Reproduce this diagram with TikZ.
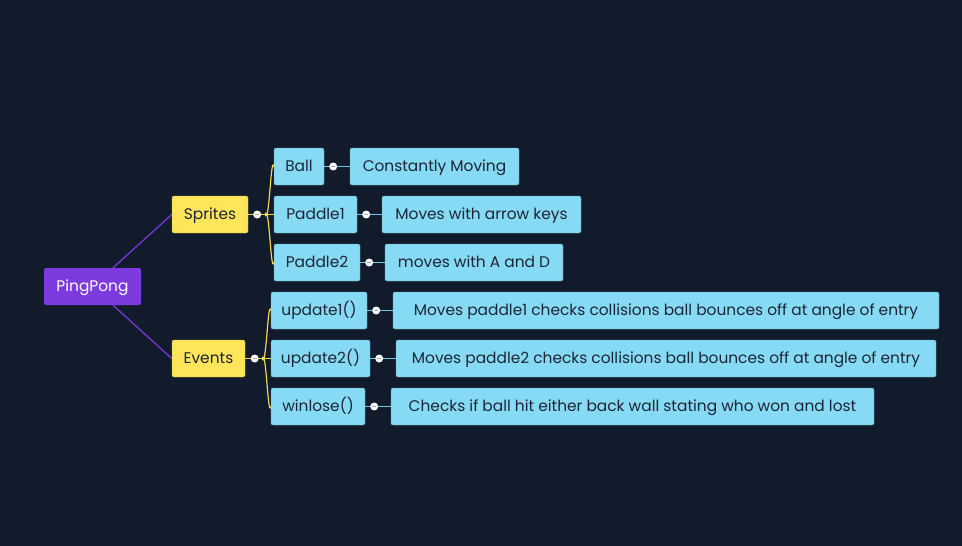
\documentclass[tikz,border=0pt]{standalone}
\usepackage{fontspec}
\setmainfont{Poppins}
\definecolor{bg}{HTML}{111B2B}
\definecolor{purp}{HTML}{7D3ADF}
\definecolor{yel}{HTML}{FEE55A}
\definecolor{cyn}{HTML}{87DAF3}
\definecolor{cynline}{HTML}{72C8E4}
\definecolor{yline}{HTML}{F0D54A}
\definecolor{txt}{HTML}{1B2536}
\begin{document}
\begin{tikzpicture}[x=1pt,y=-1pt,
  base/.style={rectangle,rounded corners=2pt,inner sep=0pt,minimum height=37pt,text height=13.6pt,text depth=3pt,font=\fontsize{15.4}{18}\selectfont,text=txt},
  rootbox/.style={base,fill=purp,text=white},
  mainbox/.style={base,fill=yel,draw=yel!80!black,line width=0.4pt},
  subbox/.style={base,fill=cyn,draw=cyn!75!black,line width=0.4pt},
  pline/.style={draw=purp,line width=1.2pt},
  yl/.style={draw=yline,line width=1.2pt},
  cl/.style={draw=cynline,line width=1.2pt},
  knob/.style={circle,fill=white,inner sep=0pt,minimum size=8pt,
    path picture={\draw[gray!70,line width=1pt] ([xshift=-2pt]path picture bounding box.center) -- ([xshift=2pt]path picture bounding box.center);}}
]
\fill[bg] (0,0) rectangle (962,546);
\useasboundingbox (0,0) rectangle (962,546);

\node[rootbox,minimum width=97pt] (pp) at (92.5,286.5) {PingPong};
\node[mainbox,minimum width=76pt] (spr) at (210,214.5) {Sprites};
\node[mainbox,minimum width=73pt] (evt) at (208.5,358.5) {Events};

\node[subbox,minimum width=50pt] (ball) at (299,166.5) {Ball};
\node[subbox,minimum width=169pt] (cm) at (434.5,166.5) {Constantly Moving};
\node[subbox,minimum width=83pt] (p1) at (315.5,214.5) {Paddle1};
\node[subbox,minimum width=199pt] (mak) at (481.5,214.5) {Moves with arrow keys};
\node[subbox,minimum width=86pt] (p2) at (317,262.5) {Paddle2};
\node[subbox,minimum width=178pt] (mad) at (474,262.5) {moves with A and D};
\node[subbox,minimum width=96pt] (u1) at (319,310.5) {update1()};
\node[subbox,minimum width=546pt] (mp1) at (666,310.5) {Moves paddle1 checks collisions ball bounces off at angle of entry};
\node[subbox,minimum width=99pt] (u2) at (320.5,358.5) {update2()};
\node[subbox,minimum width=540pt] (mp2) at (666,358.5) {Moves paddle2 checks collisions ball bounces off at angle of entry};
\node[subbox,minimum width=94pt] (wl) at (318,406.5) {winlose()};
\node[subbox,minimum width=483pt] (chk) at (632.5,406.5) {Checks if ball hit either back wall stating who won and lost};

% root connectors
\draw[pline] ([xshift=20.5pt]pp.north) -- (spr.west);
\draw[pline] ([xshift=20.5pt]pp.south) -- (evt.west);

% sprites fork
\coordinate (sf) at ([xshift=17pt]spr.east);
\draw[yl] (spr.east) -- (sf);
\draw[yl] (sf) .. controls ([xshift=4pt,yshift=-12pt]sf) and ([xshift=-3pt,yshift=12pt]ball.west) .. (ball.west);
\draw[yl] (sf) -- (p1.west);
\draw[yl] (sf) .. controls ([xshift=4pt,yshift=12pt]sf) and ([xshift=-3pt,yshift=-12pt]p2.west) .. (p2.west);
\node[knob] (ks) at ([xshift=9pt]spr.east) {};

% events fork
\coordinate (ef) at ([xshift=17pt]evt.east);
\draw[yl] (evt.east) -- (ef);
\draw[yl] (ef) .. controls ([xshift=4pt,yshift=-12pt]ef) and ([xshift=-3pt,yshift=12pt]u1.west) .. (u1.west);
\draw[yl] (ef) -- (u2.west);
\draw[yl] (ef) .. controls ([xshift=4pt,yshift=12pt]ef) and ([xshift=-3pt,yshift=-12pt]wl.west) .. (wl.west);
\node[knob] (ke) at ([xshift=9.5pt]evt.east) {};

% leaf connectors
\foreach \a/\b in {ball/cm,p1/mak,p2/mad,u1/mp1,u2/mp2,wl/chk}{
  \draw[cl] (\a.east) -- (\b.west);
  \node[knob] (k\a) at ([xshift=9pt]\a.east) {};
}
\end{tikzpicture}
\end{document}
